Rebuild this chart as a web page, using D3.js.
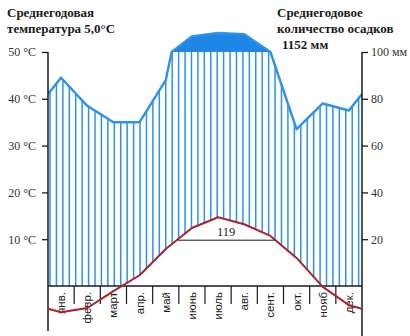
<!DOCTYPE html>
<html>
<head>
<meta charset="utf-8">
<script src="https://cdn.jsdelivr.net/npm/d3@7"></script>
<style>
  html, body { margin: 0; padding: 0; background: #fff; }
  svg { display: block; }
</style>
</head>
<body>
<svg id="chart" width="410" height="336"></svg>
<script>
// Monthly climate data
const months = ["янв.", "февр.", "март", "апр.", "май", "июнь", "июль", "авг.", "сент.", "окт.", "нояб", "дек."];
const temperature = [-5.6, -4.7, -1.1, 2.3, 7.9, 12.4, 14.7, 13.2, 10.7, 6.0, -0.2, -4.1];
const precipitation = [89, 77, 70, 70, 88, 141, 150, 147, 100, 67, 78, 75];
const tempTicks = [10, 20, 30, 40, 50];
const precipTicks = [20, 40, 60, 80, 100];
const warmDays = 119;
const titleLeft = ["Среднегодовая", "температура 5,0°С"];
const titleRight = ["Среднегодовое", "количество осадков", "1152 мм"];

const svg = d3.select("#chart");
const blue = "#2e92e6";
const capBlue = "#1f86e6";
const red = "#a8232b";
const ink = "#1a1a1a";
const serif = "'Liberation Serif', 'DejaVu Serif', serif";
const sans = "'Liberation Sans', Arial, sans-serif";

const x0 = 48, x1 = 362, yBase = 286, yTop = 52;
const x = d3.scaleLinear().domain([0, 12]).range([x0, x1]);
const yT = d3.scaleLinear().domain([0, 50]).range([yBase, yTop]);
// precipitation above 100 mm is drawn at a compressed scale
const yP = d3.scaleLinear().domain([0, 100, 200]).range([yBase, yTop, 14]);

// series closed at both axes by wrapping December into January
function withEdges(vals) {
  const edge = (vals[11] + vals[0]) / 2;
  const pts = [{ m: 0, v: edge }];
  vals.forEach((v, i) => pts.push({ m: i + 0.5, v }));
  pts.push({ m: 12, v: edge });
  return pts;
}

// insert the points where a segment crosses a given level
function withCrossings(pts, level) {
  const out = [];
  pts.forEach((p, i) => {
    if (i > 0) {
      const a = pts[i - 1];
      if ((a.v - level) * (p.v - level) < 0) {
        const t = (level - a.v) / (p.v - a.v);
        out.push({ m: a.m + t * (p.m - a.m), v: level });
      }
    }
    out.push(p);
  });
  return out;
}

const pPts = withCrossings(withEdges(precipitation), 100);
const tPts = withEdges(temperature);

const defs = svg.append("defs");
// hatch region: precipitation up to 100 mm ...
defs.append("clipPath").attr("id", "precipClip")
  .append("path")
  .attr("d", d3.area()
    .x(d => x(d.m))
    .y0(yBase)
    .y1(d => yP(Math.min(d.v, 100)))(pPts));
// ... and above the temperature curve
defs.append("clipPath").attr("id", "tempClip")
  .append("path")
  .attr("d", d3.area()
    .x(d => x(d.m))
    .y0(0)
    .y1(d => yT(d.v))(tPts));

const hatchX = d3.range(50, x1, 6.43);
svg.append("g").attr("clip-path", "url(#precipClip)")
  .append("g").attr("clip-path", "url(#tempClip)")
  .selectAll("line").data(hatchX).join("line")
  .attr("x1", d => d).attr("x2", d => d)
  .attr("y1", yBase).attr("y2", yTop - 4)
  .attr("stroke", blue).attr("stroke-width", 1.5);

// solid cap above 100 mm
svg.append("path")
  .attr("d", d3.area()
    .x(d => x(d.m))
    .y0(yP(100))
    .y1(d => yP(Math.max(d.v, 100)))(pPts))
  .attr("fill", capBlue);

// precipitation outline
svg.append("path")
  .attr("d", d3.line().x(d => x(d.m)).y(d => yP(d.v))(pPts))
  .attr("fill", "none").attr("stroke", blue).attr("stroke-width", 2.4)
  .attr("stroke-linejoin", "round");

// baseline
svg.append("line")
  .attr("x1", x0).attr("x2", x1).attr("y1", yBase).attr("y2", yBase)
  .attr("stroke", ink).attr("stroke-width", 1.5);

// month cell separators
svg.append("g").selectAll("line").data(d3.range(1, 12)).join("line")
  .attr("x1", d => x(d)).attr("x2", d => x(d))
  .attr("y1", yBase).attr("y2", yBase + 18)
  .attr("stroke", ink).attr("stroke-width", 1.2);

// month labels
svg.append("g").selectAll("text").data(months).join("text")
  .attr("transform", (d, i) => `translate(${x(i + 0.5) + 4},${yBase + 6}) rotate(-90)`)
  .attr("text-anchor", "end")
  .attr("font-family", sans).attr("font-size", 11.5)
  .attr("fill", ink)
  .text(d => d);

// axes lines
svg.append("line").attr("x1", x0).attr("x2", x0).attr("y1", yTop).attr("y2", 331)
  .attr("stroke", ink).attr("stroke-width", 1.5);
svg.append("line").attr("x1", x1).attr("x2", x1).attr("y1", yTop).attr("y2", 336)
  .attr("stroke", ink).attr("stroke-width", 1.5);

// temperature axis
const axL = svg.append("g").attr("transform", `translate(${x0},0)`)
  .call(d3.axisLeft(yT).tickValues(tempTicks).tickSize(6).tickPadding(6)
    .tickFormat(d => d + " °C"));
axL.select(".domain").remove();
axL.selectAll(".tick line").attr("stroke", ink).attr("stroke-width", 1.3);
axL.selectAll(".tick text").attr("font-family", serif).attr("font-size", 12).attr("fill", "#333");

// precipitation axis
const axR = svg.append("g").attr("transform", `translate(${x1},0)`)
  .call(d3.axisRight(yP).tickValues(precipTicks).tickSize(6).tickPadding(3)
    .tickFormat(d => d === 100 ? d + " мм" : d));
axR.select(".domain").remove();
axR.selectAll(".tick line").attr("stroke", ink).attr("stroke-width", 1.3);
axR.selectAll(".tick text").attr("font-family", serif).attr("font-size", 12).attr("fill", "#333");

// temperature curve
svg.append("path")
  .attr("d", d3.line().x(d => x(d.m)).y(d => yT(d.v))(tPts))
  .attr("fill", "none").attr("stroke", red).attr("stroke-width", 2)
  .attr("stroke-linejoin", "round");

// period with temperatures above 10 °C
const cross = withCrossings(tPts, 10).filter(d => d.v === 10);
const xa = x(cross[0].m), xb = x(cross[cross.length - 1].m);
svg.append("line")
  .attr("x1", xa).attr("x2", xb).attr("y1", yT(10) + 1).attr("y2", yT(10) + 1)
  .attr("stroke", ink).attr("stroke-width", 1);
svg.append("text")
  .attr("x", (xa + xb) / 2).attr("y", yT(10) - 3)
  .attr("text-anchor", "middle")
  .attr("font-family", serif).attr("font-size", 12.5).attr("fill", ink)
  .text(warmDays);

// titles
svg.append("g").selectAll("text").data(titleLeft).join("text")
  .attr("x", 7).attr("y", (d, i) => 17 + i * 16)
  .attr("font-family", serif).attr("font-weight", "bold").attr("font-size", 13)
  .attr("fill", ink).text(d => d);

svg.append("g").selectAll("text").data(titleRight).join("text")
  .attr("x", (d, i) => i === 2 ? 282 : 277).attr("y", (d, i) => 17 + i * 16)
  .attr("font-family", serif).attr("font-weight", "bold").attr("font-size", 13)
  .attr("fill", ink).text(d => d);
</script>
</body>
</html>
